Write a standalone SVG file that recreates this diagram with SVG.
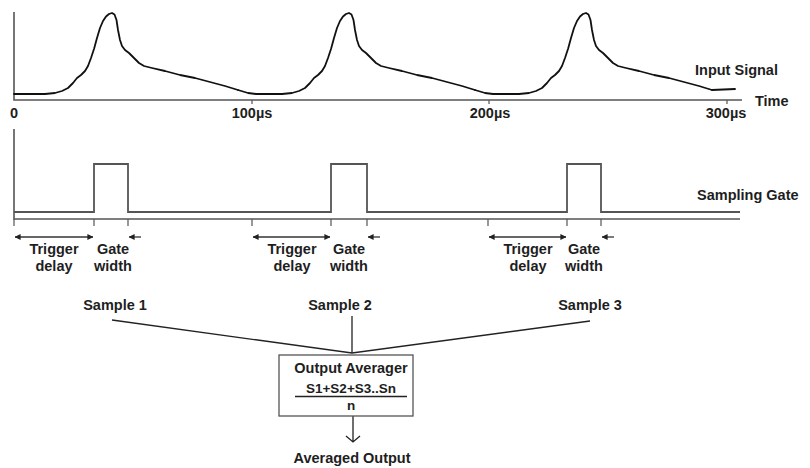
<svg xmlns="http://www.w3.org/2000/svg" width="810" height="468" viewBox="0 0 810 468">
  <style>
    .lbl { font-family: "Liberation Sans", Arial, sans-serif; font-weight: bold; font-size: 14.5px; fill: #1e1e1e; }
    .sm { font-size: 13.5px; }
    .mid { text-anchor: middle; }
    .axis { stroke: #555; stroke-width: 1.6; fill: none; }
    .tick { stroke: #555; stroke-width: 1.2; fill: none; }
    .sig { stroke: #111; stroke-width: 1.8; fill: none; stroke-linejoin: round; stroke-linecap: round; }
    .gate { stroke: #555; stroke-width: 1.8; fill: none; }
    .dim { stroke: #333; stroke-width: 1.3; fill: none; }
    .wire { stroke: #222; stroke-width: 1.3; fill: none; }
    .box { stroke: #555; stroke-width: 1.3; fill: #fff; }
  </style>
  <defs>
    <marker id="head" viewBox="0 0 8 8" refX="7.5" refY="4" markerWidth="6" markerHeight="6" orient="auto-start-reverse" markerUnits="userSpaceOnUse">
      <path d="M0,0 L8,4 L0,8 Z" fill="#222"/>
    </marker>
    <!-- one input pulse: baseline, fast rise, rounded peak and slow decay -->
    <path id="pulse" d="M45,94 L55,93 L62,91 L68,88 L73,83 L77,78 L81,75 L85,71 L88,66 L91,58 L94,49 L97,38 L100,28 L103,21 L106,16.5 L109,14 L112,13 L114.5,14.5 L116.5,20 L118,30 L120,40 L122,46 L125,50 L129,53 L134,58 L139,63 L144,66 L152,68 L165,71 L180,75 L195,78 L210,82 L225,86 L238,90"/>
  </defs>

  <!-- input signal trace -->
  <g id="input-signal">
    <path class="axis" d="M14,12 L14,100 L742,100"/>
    <path class="tick" d="M252,100 L252,104 M489,100 L489,104 M727,100 L727,104"/>
    <path class="sig" d="M14,94 L45,94"/>
    <use href="#pulse" class="sig"/>
    <path class="sig" d="M238,90 L248,93 L256,94 L282,94"/>
    <use href="#pulse" class="sig" transform="translate(237,0)"/>
    <path class="sig" d="M475,90 L485,93 L493,94 L519,94"/>
    <use href="#pulse" class="sig" transform="translate(474,0)"/>
    <path class="sig" d="M712,90 L735,89"/>
    <text class="lbl" x="695" y="75">Input Signal</text>
    <text class="lbl" x="755" y="106">Time</text>
    <text class="lbl mid" x="14" y="118">0</text>
    <text class="lbl mid" x="252" y="118">100µs</text>
    <text class="lbl mid" x="490" y="118">200µs</text>
    <text class="lbl mid" x="726" y="118">300µs</text>
  </g>

  <!-- sampling gate trace -->
  <g id="sampling-gate">
    <path class="axis" d="M14,129 L14,219 L740,219"/>
    <path class="gate" d="M14,212 L94,212 L94,164 L128,164 L128,212 L331,212 L331,164 L367,164 L367,212 L567,212 L567,164 L601,164 L601,212 L740,212"/>
    <path class="tick" d="M14,219 L14,226 M94,219 L94,226 M128,219 L128,226 M252,219 L252,226 M331,219 L331,226 M367,219 L367,226 M488,219 L488,226 M567,219 L567,226 M601,219 L601,226"/>
    <text class="lbl" x="697" y="200">Sampling Gate</text>
  </g>

  <!-- trigger delay / gate width spans -->
  <g id="span-1">
    <path class="dim" d="M15,237 L93,237" marker-start="url(#head)" marker-end="url(#head)"/>
    <path class="dim" d="M141,237 L129,237" marker-end="url(#head)"/>
    <text class="lbl mid" x="54" y="254">Trigger</text>
    <text class="lbl mid" x="54" y="271">delay</text>
    <text class="lbl mid" x="113" y="254">Gate</text>
    <text class="lbl mid" x="113" y="271">width</text>
  </g>
  <g id="span-2">
    <path class="dim" d="M253,237 L330,237" marker-start="url(#head)" marker-end="url(#head)"/>
    <path class="dim" d="M380,237 L368,237" marker-end="url(#head)"/>
    <text class="lbl mid" x="292" y="254">Trigger</text>
    <text class="lbl mid" x="292" y="271">delay</text>
    <text class="lbl mid" x="349" y="254">Gate</text>
    <text class="lbl mid" x="349" y="271">width</text>
  </g>
  <g id="span-3">
    <path class="dim" d="M489,237 L566,237" marker-start="url(#head)" marker-end="url(#head)"/>
    <path class="dim" d="M614,237 L602,237" marker-end="url(#head)"/>
    <text class="lbl mid" x="528" y="254">Trigger</text>
    <text class="lbl mid" x="528" y="271">delay</text>
    <text class="lbl mid" x="584" y="254">Gate</text>
    <text class="lbl mid" x="584" y="271">width</text>
  </g>

  <!-- sample labels -->
  <g id="sample-1"><text class="lbl mid" x="115" y="310">Sample 1</text></g>
  <g id="sample-2"><text class="lbl mid" x="340" y="310">Sample 2</text></g>
  <g id="sample-3"><text class="lbl mid" x="590" y="310">Sample 3</text></g>

  <!-- connectors into the averager -->
  <g id="connectors">
    <path class="wire" d="M112,320 L352,353 L590,321"/>
    <path class="wire" d="M352,316 L352,353"/>
    <path class="wire" d="M353,416 L353,442 M346,436 L353,442 L360,436"/>
  </g>

  <!-- averager block -->
  <g id="output-averager">
    <rect class="box" x="279" y="355" width="134" height="61"/>
    <text class="lbl mid" x="351" y="373">Output Averager</text>
    <text class="lbl sm mid" x="351" y="393">S1+S2+S3..Sn</text>
    <path class="wire" d="M295,396.5 L407,396.5"/>
    <text class="lbl sm mid" x="351" y="410">n</text>
  </g>

  <g id="averaged-output">
    <text class="lbl mid" x="352" y="463">Averaged Output</text>
  </g>
</svg>
